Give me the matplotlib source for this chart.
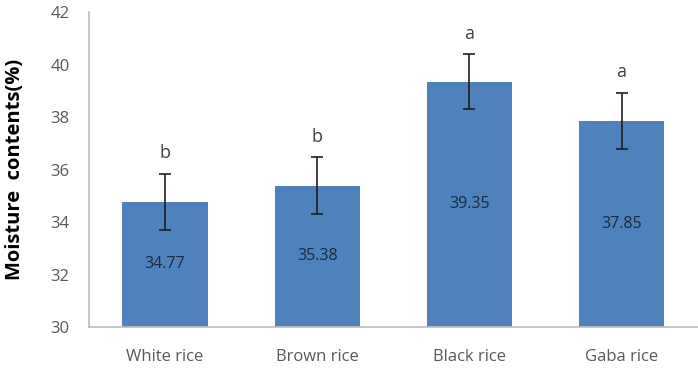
import matplotlib.pyplot as plt
import numpy as np

plt.rcParams['font.family'] = ['Open Sans', 'DejaVu Sans']

categories = ['White rice', 'Brown rice', 'Black rice', 'Gaba rice']
moisture = [34.77, 35.38, 39.35, 37.85]
errors = [1.07, 1.08, 1.05, 1.08]
letters = ['b', 'b', 'a', 'a']

fig = plt.figure(figsize=(6.98, 3.76), dpi=100)
ax = fig.add_axes([0.1275, 0.13, 0.872, 0.838])

x = np.arange(len(categories))
ax.bar(x, np.array(moisture) - 30, bottom=30, width=0.56, color='#4F81BD', zorder=2)
ax.errorbar(x, moisture, yerr=errors, fmt='none', ecolor='#1f1f1f', elinewidth=1.2,
            capsize=4, capthick=1.2, zorder=3)

for xi, v, e, l in zip(x, moisture, errors, letters):
    ax.text(xi, (30 + v) / 2, '%.2f' % v, ha='center', va='center', fontsize=11.5, color='#1c2a3a')
    ax.text(xi, v + e + 0.78, l, ha='center', va='center', fontsize=13, color='#404040')

ax.set_xlim(-0.5, 3.5)
ax.set_ylim(30, 42)
ax.set_yticks(np.arange(30, 43, 2))
ax.set_xticks(x)
ax.set_xticklabels(categories)
ax.tick_params(length=0, labelsize=12, colors='#595959')
ax.tick_params(axis='y', pad=14)
ax.tick_params(axis='x', pad=16)
for s in ['top', 'right']:
    ax.spines[s].set_visible(False)
for s in ['left', 'bottom']:
    ax.spines[s].set_color('#bfbfbf')
    ax.spines[s].set_linewidth(1.2)
ax.set_ylabel('Moisture  contents(%)', fontsize=14.5, fontweight='bold', color='black', labelpad=18)

fig.savefig('out.png', dpi=100)
